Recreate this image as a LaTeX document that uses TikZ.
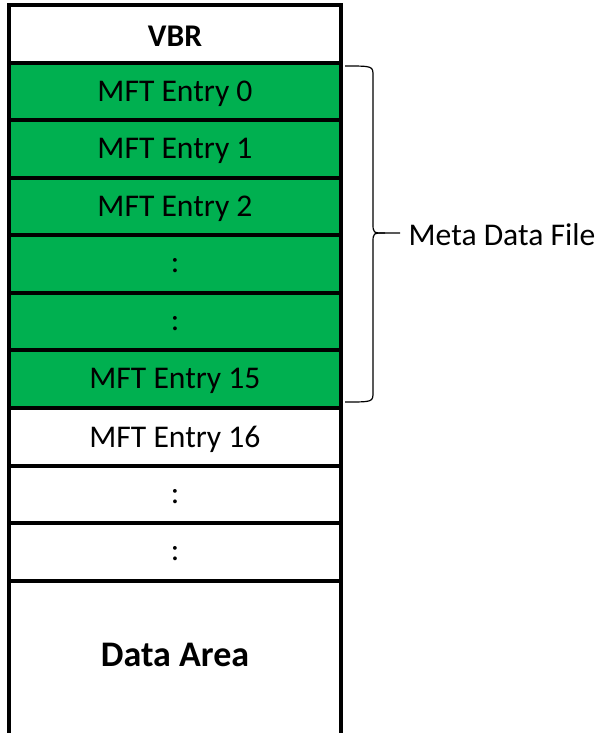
\documentclass[tikz,border=0pt]{standalone}
\usepackage{fontspec}
\setmainfont{Carlito}
\usetikzlibrary{positioning}

\definecolor{mftgreen}{HTML}{00B050}

\tikzset{
  cell/.style={draw=black, line width=2.8pt},
  celltext/.style={font=\fontsize{23.7}{28}\selectfont, yshift=-1.5pt},
  bracelin/.style={draw=black, line width=0.9pt}
}

\begin{document}
\begin{tikzpicture}[x=0.75pt,y=-0.75pt]
\useasboundingbox (0,0) rectangle (600,733);

% VBR
\draw[cell, fill=white] (9,5) rectangle (341,63);
\node[celltext, font=\fontsize{23.7}{28}\selectfont\bfseries] (vbr) at (175,34) {VBR};

% Entrées MFT du fichier de métadonnées
\draw[cell, fill=mftgreen] (9,63) rectangle (341,120);
\node[celltext] (mft0) at (175,91.5) {MFT Entry 0};
\draw[cell, fill=mftgreen] (9,120) rectangle (341,178);
\node[celltext] (mft1) at (175,149) {MFT Entry 1};
\draw[cell, fill=mftgreen] (9,178) rectangle (341,235);
\node[celltext] (mft2) at (175,206.5) {MFT Entry 2};
\draw[cell, fill=mftgreen] (9,235) rectangle (341,293);
\node[celltext] (dotsa) at (175,264) {:};
\draw[cell, fill=mftgreen] (9,293) rectangle (341,350);
\node[celltext] (dotsb) at (175,321.5) {:};
\draw[cell, fill=mftgreen] (9,350) rectangle (341,408);
\node[celltext] (mft15) at (175,379) {MFT Entry 15};

% Entrées suivantes
\draw[cell, fill=white] (9,408) rectangle (341,466);
\node[celltext] (mft16) at (175,437) {MFT Entry 16};
\draw[cell, fill=white] (9,466) rectangle (341,523);
\node[celltext] (dotsc) at (175,494.5) {:};
\draw[cell, fill=white] (9,523) rectangle (341,581);
\node[celltext] (dotsd) at (175,552) {:};

% Zone de données
\draw[cell, fill=white] (9,581) rectangle (341,735);
\node[font=\fontsize{27}{32}\selectfont\bfseries] (data) at (175,655) {Data Area};

% Accolade
\draw[bracelin] (345,66) .. controls (373,66) .. (373,76) -- (373,223)
  .. controls (373,233) .. (385,233) -- (400,233);
\draw[bracelin] (345,402) .. controls (373,402) .. (373,392) -- (373,243)
  .. controls (373,233) .. (385,233);
\node[celltext, anchor=west] (meta) at (404,233) {Meta Data File};

\end{tikzpicture}
\end{document}
